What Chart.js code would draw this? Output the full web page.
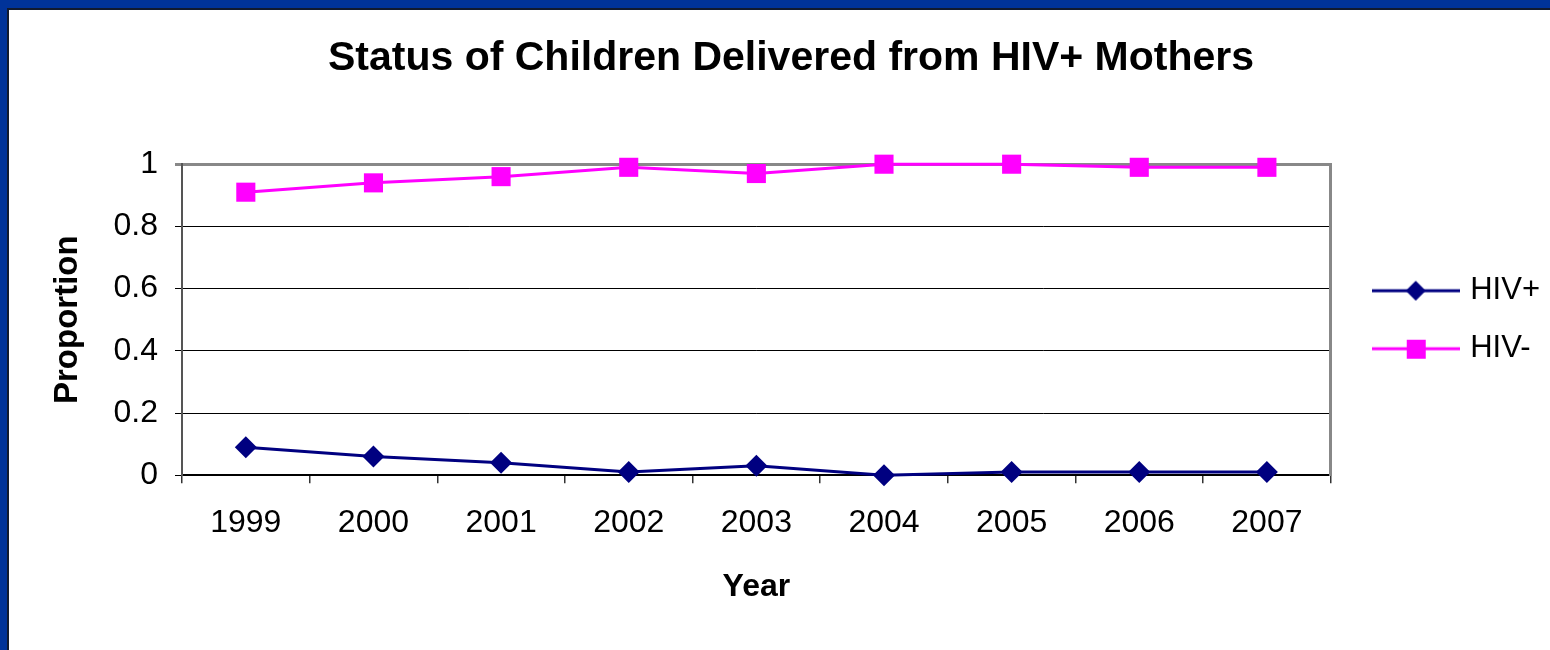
<!DOCTYPE html>
<html>
<head>
  <title>Status of Children Delivered from HIV+ Mothers</title>
  <script src="https://cdn.jsdelivr.net/npm/chart.js@4"></script>
  <style>
    body { margin: 0; background: #fff; }
    #wrap { position: relative; width: 1550px; height: 650px; overflow: hidden; }
    #statusChart { position: absolute; left: 0; top: 0; }
    .bar { position: absolute; pointer-events: none; }
  </style>
</head>
<body>
  <div id="wrap">
    <canvas id="statusChart" width="1550" height="650"></canvas>
    <div class="bar" style="left:0;top:0;width:1550px;height:8px;background:#003399"></div>
    <div class="bar" style="left:7px;top:8px;width:1543px;height:2px;background:#111a2e"></div>
    <div class="bar" style="left:0;top:0;width:7px;height:650px;background:#003399"></div>
    <div class="bar" style="left:7px;top:8px;width:2px;height:642px;background:#111a2e"></div>
  </div>

  <script>
    const years = ['1999', '2000', '2001', '2002', '2003', '2004', '2005', '2006', '2007'];
    const hivPos = [0.09, 0.06, 0.04, 0.01, 0.03, 0.00, 0.01, 0.01, 0.01];
    const hivNeg = [0.91, 0.94, 0.96, 0.99, 0.97, 1.00, 1.00, 0.99, 0.99];
    const yTicks = ['0', '0.2', '0.4', '0.6', '0.8', '1'];

    const navy = '#000080';
    const magenta = '#ff00ff';
    const font = 'Liberation Sans, Arial, sans-serif';

    // legend swatch: line with the marker in the middle
    function swatch(color, shape) {
      const c = document.createElement('canvas');
      c.width = 88; c.height = 24;
      const g = c.getContext('2d');
      g.strokeStyle = color; g.lineWidth = 3;
      g.beginPath(); g.moveTo(0, 12); g.lineTo(88, 12); g.stroke();
      g.fillStyle = color;
      g.beginPath();
      if (shape === 'diamond') {
        g.moveTo(44, 2); g.lineTo(54, 12); g.lineTo(44, 22); g.lineTo(34, 12);
      } else {
        g.rect(35, 3, 19, 19);
      }
      g.closePath(); g.fill();
      return c;
    }

    const ctx = document.getElementById('statusChart').getContext('2d');

    const chart = new Chart(ctx, {
      type: 'line',
      data: {
        labels: years,
        datasets: [{
          label: 'HIV+',
          data: hivPos,
          borderColor: navy,
          backgroundColor: navy,
          borderWidth: 3,
          pointStyle: 'rectRot',
          pointRadius: 11,
          pointBorderWidth: 0,
          tension: 0,
          clip: false
        }, {
          label: 'HIV-',
          data: hivNeg,
          borderColor: magenta,
          backgroundColor: magenta,
          borderWidth: 3,
          pointStyle: 'rect',
          pointRadius: 13.5,
          pointBorderWidth: 0,
          tension: 0,
          clip: false
        }]
      },
      options: {
        responsive: false,
        animation: false,
        layout: { padding: { left: 32, right: 0, top: 10, bottom: 0 } },
        scales: {
          x: {
            offset: true,
            grid: { offset: true, drawOnChartArea: false, tickLength: 8, color: '#333', lineWidth: 1.5 },
            border: { color: '#000', width: 2 },
            ticks: { color: '#000', padding: 21, font: { family: font, size: 32 } },
            title: {
              display: true, text: 'Year', color: '#000',
              font: { family: font, size: 32, weight: 'bold' },
              padding: { top: 4, bottom: 44 }
            }
          },
          y: {
            min: 0, max: 1,
            ticks: {
              stepSize: 0.2, color: '#000', padding: 17,
              font: { family: font, size: 32 },
              callback: (v, i) => yTicks[i]
            },
            grid: {
              tickLength: 7,
              color: c => c.tick && c.tick.value === 1 ? '#888' : '#000',
              lineWidth: c => c.tick && c.tick.value === 1 ? 3 : 1
            },
            border: { color: '#555', width: 2 },
            title: {
              display: true, text: 'Proportion', color: '#000',
              font: { family: font, size: 33, weight: 'bold' },
              padding: { top: 16, bottom: 0 }
            },
            afterFit: s => { s.width = 150; }
          },
          y2: {
            position: 'right',
            min: 0, max: 1,
            grid: { display: false },
            ticks: { display: false },
            border: { color: '#888', width: 3 },
            afterFit: s => { s.width = 19; }
          }
        },
        plugins: {
          title: {
            display: true,
            text: 'Status of Children Delivered from HIV+ Mothers',
            color: '#000',
            font: { family: font, size: 41, weight: 'bold' },
            padding: { top: 24, bottom: 81 }
          },
          legend: {
            position: 'right',
            fullSize: false,
            labels: {
              usePointStyle: true,
              pointStyleWidth: 78,
              padding: 27,
              color: '#000',
              font: { family: font, size: 31 },
              generateLabels: ch => ch.data.datasets.map((d, i) => ({
                text: d.label,
                datasetIndex: i,
                fontColor: '#000',
                fillStyle: d.borderColor,
                strokeStyle: d.borderColor,
                lineWidth: 0,
                pointStyle: swatch(d.borderColor, i === 0 ? 'diamond' : 'square')
              }))
            }
          },
          tooltip: { enabled: false }
        }
      }
    });
  </script>
</body>
</html>
